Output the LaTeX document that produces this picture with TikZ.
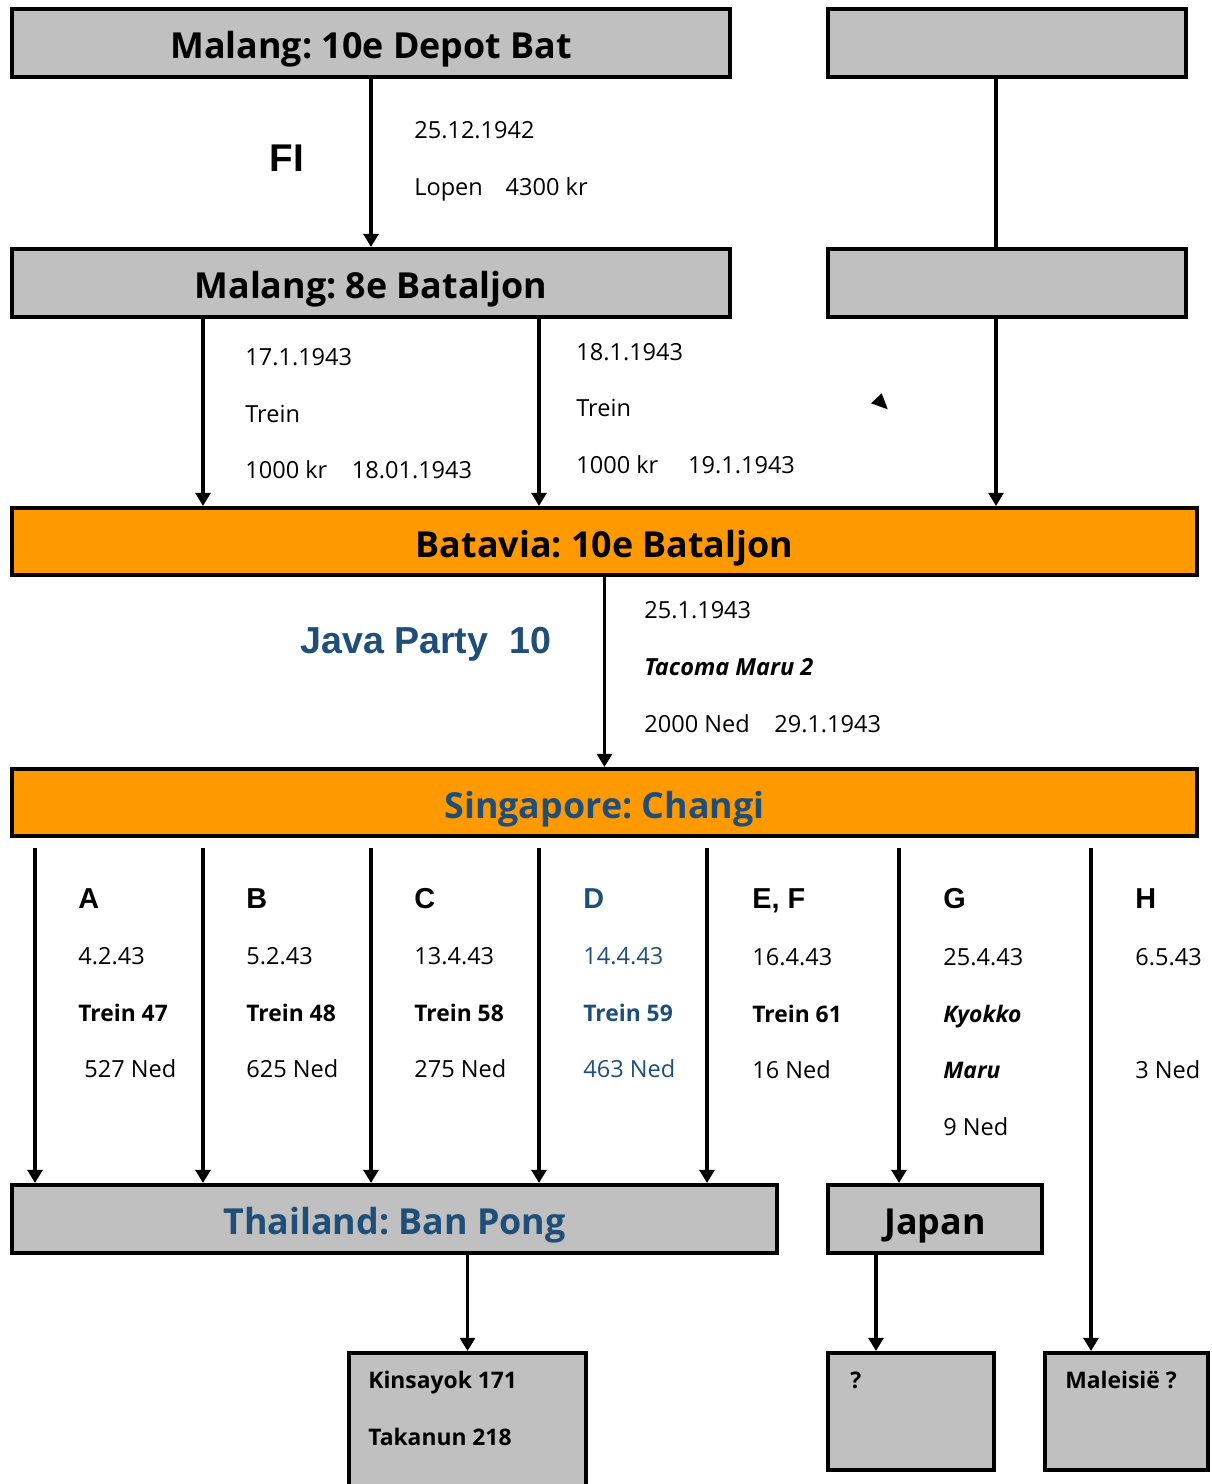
\documentclass[tikz,border=0pt]{standalone}
\usepackage{fontspec}
\setmainfont{Open Sans}
\newfontfamily\arial{Liberation Sans}
\usetikzlibrary{arrows.meta}
\frenchspacing

\definecolor{grijs}{HTML}{C0C0C0}
\definecolor{oranje}{HTML}{FF9900}
\definecolor{blauw}{HTML}{1F4E79}

\tikzset{kader/.style = {draw, line width=2.3pt, inner sep=0pt,
                         text height=18pt, text depth=0pt,
                         font=\bfseries\fontsize{20.4}{24}\selectfont},
         pijl/.style = {line width=1.9pt, -{Triangle[width=8.5pt,length=7.5pt]}},
         tekst/.style = {anchor=base west, inner sep=0pt, font=\fontsize{13.4}{16}\selectfont},
         letter/.style = {anchor=base west, inner sep=0pt, font=\arial\bfseries\fontsize{16.4}{19}\selectfont}
        }

\begin{document}
\begin{tikzpicture}[x=0.02cm,y=-0.02cm]
\useasboundingbox (0,0) rectangle (1211,1484);
% de kaders
\node[kader, fill=grijs, minimum width=14.36cm, minimum height=1.36cm] at (371,43) (dep) {Malang: 10e Depot Bat};
\node[kader, fill=grijs, minimum width=7.16cm, minimum height=1.36cm] at (1007,43) (leeg1) {};
\node[kader, fill=grijs, minimum width=14.36cm, minimum height=1.36cm] at (371,283) (b8) {Malang: 8e Bataljon};
\node[kader, fill=grijs, minimum width=7.16cm, minimum height=1.36cm] at (1007,283) (leeg2) {};
\node[kader, fill=oranje, minimum width=23.7cm, minimum height=1.34cm] at (604.5,541.5) (bat) {Batavia: 10e Bataljon};
\node[kader, fill=oranje, minimum width=23.7cm, minimum height=1.34cm, text=blauw] at (604.5,802.5) (chg) {Singapore: Changi};
\node[kader, fill=grijs, minimum width=15.3cm, minimum height=1.36cm, text=blauw] at (394.5,1219) (thai) {Thailand: Ban Pong};
\node[kader, fill=grijs, minimum width=4.28cm, minimum height=1.36cm] at (935,1219) (jap) {Japan};
\node[kader, fill=grijs, minimum width=4.74cm, minimum height=2.74cm] at (467.5,1421.5) (kin) {};
\node[kader, fill=grijs, minimum width=3.32cm, minimum height=2.34cm] at (911,1411.5) (onb) {};
\node[kader, fill=grijs, minimum width=3.26cm, minimum height=2.34cm] at (1126.5,1411.5) (mal) {};

% hulppunten
\coordinate (xr) at (996,0);
\coordinate (x1) at (203,0);
\coordinate (x2) at (539,0);
\coordinate (xj) at (876,0);
\coordinate (ka) at (35,848);
\coordinate (kb) at (203,848);
\coordinate (kc) at (371,848);
\coordinate (kd) at (539,848);
\coordinate (ke) at (707,848);
\coordinate (kg) at (899,848);
\coordinate (kh) at (1091,848);

% pijlen
\draw[pijl] (dep.south) -- (b8.north);
\draw[line width=1.9pt] (leeg1.south -| xr) -- (leeg2.north -| xr);
\draw[pijl] (leeg2.south -| xr) -- (bat.north -| xr);
\draw[pijl] (b8.south -| x1) -- (bat.north -| x1);
\draw[pijl] (b8.south -| x2) -- (bat.north -| x2);
\draw[pijl] (bat.south) -- (chg.north);
\draw[pijl] (ka) -- (ka |- thai.north);
\draw[pijl] (kb) -- (kb |- thai.north);
\draw[pijl] (kc) -- (kc |- thai.north);
\draw[pijl] (kd) -- (kd |- thai.north);
\draw[pijl] (ke) -- (ke |- thai.north);
\draw[pijl] (kg) -- (kg |- jap.north);
\draw[pijl] (kh) -- (kh |- mal.north);
\draw[pijl] (thai.south -| kin.north) -- (kin.north);
\draw[pijl] (jap.south -| xj) -- (onb.north -| xj);
\fill (881.7,393.3) -- (871,403.3) -- (887.7,409.3) -- cycle;

% teksten bij de pijlen
\node[anchor=center, inner sep=0pt, font=\arial\bfseries\fontsize{22}{26}\selectfont] at (287,158) (fl) {FI};
\node[tekst] at (414,138.5) (t1) {25.12.1942};
\node[tekst] at (414,195.5) (t2) {Lopen\hspace{13pt}4300 kr};
\node[tekst] at (245,365.5) (t3) {17.1.1943};
\node[tekst] at (245,422.5) (t4) {Trein};
\node[tekst] at (245,478.5) (t5) {1000 kr\hspace{14pt}18.01.1943};
\node[tekst] at (576,360.5) (t6) {18.1.1943};
\node[tekst] at (576,416.5) (t7) {Trein};
\node[tekst] at (576,473.5) (t8) {1000 kr\hspace{17pt}19.1.1943};
\node[anchor=base west, inner sep=0pt, text=blauw, font=\arial\bfseries\fontsize{21.4}{26}\selectfont] at (300,653) (jp) {Java Party\hspace{6pt} 10};
\node[tekst] at (644,618.5) (t9) {25.1.1943};
\node[tekst, font=\bfseries\itshape\fontsize{13.4}{16}\selectfont] at (644,675.5) (t10) {Tacoma Maru 2};
\node[tekst] at (644,732.5) (t11) {2000 Ned\hspace{14pt}29.1.1943};

% kolommen vanuit Changi
\node[letter] at (78,908) (la) {A};
\node[tekst] at (78,964.5) (a1) {4.2.43};
\node[tekst, font=\bfseries\fontsize{13}{16}\selectfont] at (78,1021.5) (a2) {Trein 47};
\node[tekst] at (84,1077.5) (a3) {527 Ned};
\node[letter] at (246,908) (lb) {B};
\node[tekst] at (246,964.5) (b1) {5.2.43};
\node[tekst, font=\bfseries\fontsize{13}{16}\selectfont] at (246,1021.5) (b2) {Trein 48};
\node[tekst] at (246,1077.5) (b3) {625 Ned};
\node[letter] at (414,908) (lc) {C};
\node[tekst] at (414,964.5) (c1) {13.4.43};
\node[tekst, font=\bfseries\fontsize{13}{16}\selectfont] at (414,1021.5) (c2) {Trein 58};
\node[tekst] at (414,1077.5) (c3) {275 Ned};
\node[letter, text=blauw] at (583,908) (ld) {D};
\node[tekst, text=blauw] at (583,964.5) (d1) {14.4.43};
\node[tekst, text=blauw, font=\bfseries\fontsize{13}{16}\selectfont] at (583,1021.5) (d2) {Trein 59};
\node[tekst, text=blauw] at (583,1077.5) (d3) {463 Ned};
\node[letter] at (752,908) (le) {E, F};
\node[tekst] at (752,965.5) (e1) {16.4.43};
\node[tekst, font=\bfseries\fontsize{13}{16}\selectfont] at (752,1022.5) (e2) {Trein 61};
\node[tekst] at (752,1078.5) (e3) {16 Ned};
\node[letter] at (943,908) (lg) {G};
\node[tekst] at (943,965.5) (g1) {25.4.43};
\node[tekst, font=\bfseries\itshape\fontsize{13}{16}\selectfont] at (943,1022.5) (g2) {Kyokko};
\node[tekst, font=\bfseries\itshape\fontsize{13}{16}\selectfont] at (943,1078.5) (g3) {Maru};
\node[tekst] at (943,1135.5) (g4) {9 Ned};
\node[letter] at (1135,908) (lh) {H};
\node[tekst] at (1135,965.5) (h1) {6.5.43};
\node[tekst] at (1135,1078.5) (h2) {3 Ned};

% onderste kaders
\node[tekst, font=\bfseries\fontsize{13}{16}\selectfont] at (368,1388.5) (k1) {Kinsayok 171};
\node[tekst, font=\bfseries\fontsize{13}{16}\selectfont] at (368,1445.5) (k2) {Takanun 218};
\node[tekst, font=\bfseries\fontsize{13}{16}\selectfont] at (850,1388.5) (o1) {?};
\node[tekst, font=\bfseries\fontsize{13}{16}\selectfont] at (1065,1388.5) (m1) {Maleisië ?};
\end{tikzpicture}
\end{document}
